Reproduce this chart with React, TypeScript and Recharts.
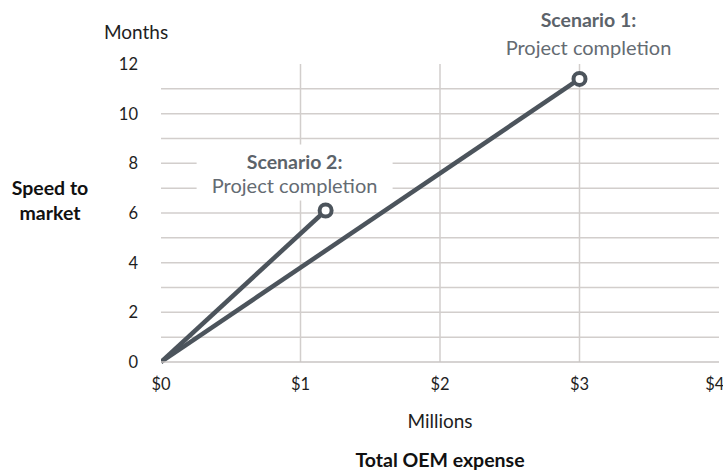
import { LineChart, Line, XAxis, YAxis, ReferenceLine, Label } from "recharts";

// values ($ millions vs months)
const xTicks = [0, 1, 2, 3, 4];
const yTicks = [0, 2, 4, 6, 8, 10, 12];
const gridYValues = [1, 2, 3, 4, 5, 6, 7, 8, 9, 10, 11];
const gridXValues = [1, 2, 3];

const scenario1Spend = [0, 3.0];
const scenario1Months = [0, 11.4];
const scenario2Spend = [0, 1.18];
const scenario2Months = [0, 6.1];

const scenario1 = scenario1Spend.map((x, i) => ({ x, y: scenario1Months[i] }));
const scenario2 = scenario2Spend.map((x, i) => ({ x, y: scenario2Months[i] }));

const FONT = "Lato, 'Noto Sans', sans-serif";
const LINE = "#4c545c";
const GRID = "#d2cecc";

const EndDot = (props: any) => {
  const { cx, cy, index, points } = props;
  if (index !== points.length - 1) return <g key={index} />;
  return <circle key={index} cx={cx} cy={cy} r={6} fill="#fff" stroke={LINE} strokeWidth={4} />;
};

// annotation above the end point of a scenario line
const makeLabel = (title: string, dx: number, titleDy: number, subDy: number, boxed: boolean, last: number) => (props: any) => {
  const { x, y, index } = props;
  if (index !== last) return null;
  const cx = x + dx;
  return (
    <g>
      {boxed && <rect x={cx - 98} y={y + titleDy - 17} width={196} height={56} fill="#fff" />}
      <text x={cx} y={y + titleDy} textAnchor="middle" dominantBaseline="central" fontFamily={FONT} fontSize={19.5} fontWeight={700} fill="#5c636a">
        {title}
      </text>
      <text x={cx} y={y + subDy} textAnchor="middle" dominantBaseline="central" fontFamily={FONT} fontSize={20} fill="#646b72">
        Project completion
      </text>
    </g>
  );
};

export default function App() {
  return (
    <div style={{ position: "absolute", left: 0, top: 0, width: 723, height: 471, background: "#fff" }}>
      <LineChart width={723} height={471} margin={{ top: 64, right: 4, bottom: 0, left: 0 }}>
        <XAxis
          type="number"
          dataKey="x"
          domain={[0, 4]}
          ticks={xTicks}
          tickFormatter={(v) => `$${v}`}
          height={109}
          axisLine={{ stroke: "#c9c5c3", strokeWidth: 1.5 }}
          tickLine={false}
          tickSize={0}
          tickMargin={16}
          tick={{ fill: "#1e1e1e", fontSize: 16.5, fontFamily: FONT }}
          allowDataOverflow
        >
          <Label
            content={(p: any) => {
              const vb = p.viewBox;
              const cx = vb.x + vb.width / 2;
              return (
                <g>
                  <text x={cx} y={vb.y + 58} textAnchor="middle" dominantBaseline="central" fontFamily={FONT} fontSize={19} fill="#1e1e1e">
                    Millions
                  </text>
                  <text x={cx} y={vb.y + 97} textAnchor="middle" dominantBaseline="central" fontFamily={FONT} fontSize={19.5} fontWeight={700} fill="#111">
                    Total OEM expense
                  </text>
                </g>
              );
            }}
          />
        </XAxis>
        <YAxis
          type="number"
          domain={[0, 12]}
          ticks={yTicks}
          width={161}
          axisLine={false}
          tickLine={false}
          tickSize={0}
          tickMargin={23}
          tick={{ fill: "#1e1e1e", fontSize: 16.5, fontFamily: FONT }}
        >
          <Label
            content={(p: any) => {
              const vb = p.viewBox;
              const mid = vb.y + vb.height / 2;
              return (
                <g>
                  <text x={136} y={vb.y - 33} textAnchor="middle" dominantBaseline="central" fontFamily={FONT} fontSize={19} fill="#1e1e1e">
                    Months
                  </text>
                  <text x={50} y={mid - 26} textAnchor="middle" dominantBaseline="central" fontFamily={FONT} fontSize={19.5} fontWeight={700} fill="#111">
                    Speed to
                  </text>
                  <text x={50} y={mid - 1} textAnchor="middle" dominantBaseline="central" fontFamily={FONT} fontSize={19.5} fontWeight={700} fill="#111">
                    market
                  </text>
                </g>
              );
            }}
          />
        </YAxis>
        {gridYValues.map((v) => (
          <ReferenceLine key={"gy" + v} y={v} stroke={GRID} strokeWidth={1.5} />
        ))}
        {gridXValues.map((v) => (
          <ReferenceLine key={"gx" + v} x={v} stroke={GRID} strokeWidth={1.5} />
        ))}
        <Line
          data={scenario1}
          dataKey="y"
          type="linear"
          stroke={LINE}
          strokeWidth={4.5}
          dot={EndDot}
          activeDot={false}
          isAnimationActive={false}
          label={makeLabel("Scenario 1:", 9, -59, -32, false, scenario1.length - 1)}
        />
        <Line
          data={scenario2}
          dataKey="y"
          type="linear"
          stroke={LINE}
          strokeWidth={4.5}
          dot={EndDot}
          activeDot={false}
          isAnimationActive={false}
          label={makeLabel("Scenario 2:", -31, -49, -26, true, scenario2.length - 1)}
        />
      </LineChart>
    </div>
  );
}
